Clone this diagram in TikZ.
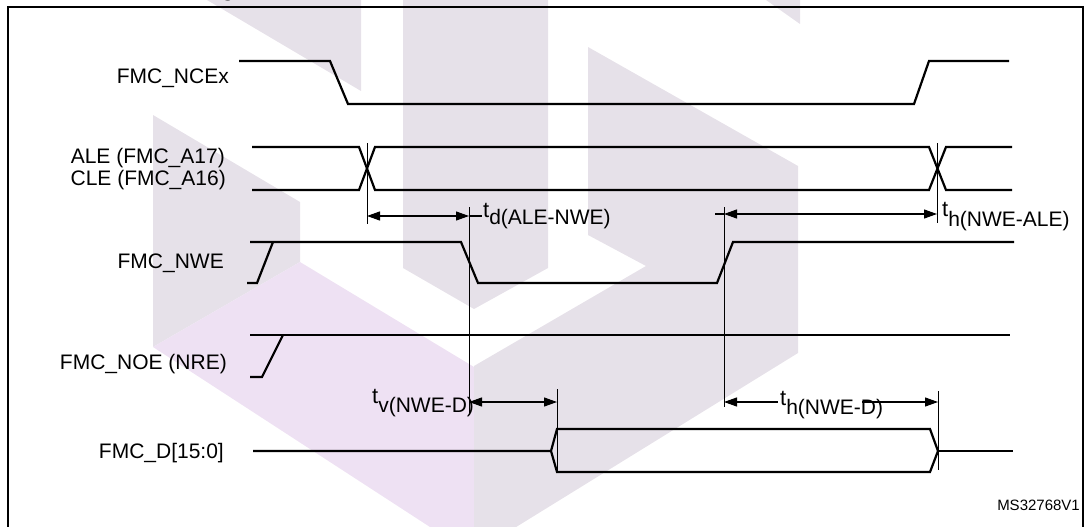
\documentclass[tikz,border=0pt]{standalone}
\usepackage{fontspec}
\setmainfont{Liberation Sans}
\usetikzlibrary{arrows.meta}
\definecolor{wmgrey}{HTML}{E6E1E9}
\definecolor{wmpink}{HTML}{EEE1F3}
\newcommand\tmlab[2]{{\fontsize{22}{22}\selectfont t}\raisebox{-#1pt}{#2}}
\begin{document}
\begin{tikzpicture}[x=1pt,y=-1pt,
  sig/.style={line width=2.2pt, line join=miter},
  tickline/.style={line width=1pt},
  dimline/.style={line width=1.1pt},
  dimboth/.style={line width=1.1pt, {Triangle[length=13pt,width=9pt]}-{Triangle[length=13pt,width=9pt]}},
  dimleft/.style={line width=1.1pt, {Triangle[length=13pt,width=9pt]}-},
  dimright/.style={line width=1.1pt, -{Triangle[length=13pt,width=9pt]}},
  lbl/.style={font=\fontsize{21}{24}\selectfont, inner sep=0pt, anchor=base east},
  tlbl/.style={font=\fontsize{21}{24}\selectfont, inner sep=0pt, anchor=base west}]
\useasboundingbox (0,0) rectangle (1088,527);
\begin{scope}
\clip (0,0) rectangle (1088,527);
% watermark
\fill[wmgrey] (207,0) -- (361,0) -- (361,91) -- cycle;
\fill[wmgrey] (403,-5) -- (548,-5) -- (548,268) -- (474,309) -- (403,268) -- cycle;
\fill[wmgrey] (153,115) -- (300,202) -- (300,262) -- (153,347) -- cycle;
\fill[wmpink] (153,347) -- (300,262) -- (474,367) -- (474,540) -- (450,540) -- cycle;
\fill[wmgrey] (588,47) -- (798,166) -- (798,353) -- (474,553) -- (474,366) -- (646,266) -- (588,235) -- cycle;
\fill[wmgrey] (759,-5) -- (800,-5) -- (800,24) -- cycle;
% cropped title and frame
\node[anchor=base, inner sep=0pt, font=\bfseries\fontsize{21}{24}\selectfont] (title) at (228,-3) {g};
\draw[line width=2.2pt] (8,545) -- (8,7) -- (1083,7) -- (1083,545);
\end{scope}

% signal labels
\node[lbl] (lnce) at (229,84) {FMC\_NCEx};
\node[lbl] (lale) at (225,163) {ALE (FMC\_A17)};
\node[lbl] (lcle) at (226,185) {CLE (FMC\_A16)};
\node[lbl] (lnwe) at (224,268) {FMC\_NWE};
\node[lbl] (lnoe) at (227,369) {FMC\_NOE (NRE)};
\node[lbl] (ld) at (224,458) {FMC\_D[15:0]};
\node[anchor=base east, inner sep=0pt, font=\fontsize{15}{18}\selectfont] (ref) at (1080,510) {MS32768V1};

% FMC_NCEx
\draw[sig] (239,61) -- (330,61) -- (348,104) -- (914,104) -- (929,61) -- (1009,61);
% ALE / CLE
\draw[sig] (252,147) -- (359,147) -- (375,190) -- (929,190) -- (946,147) -- (1012,147);
\draw[sig] (252,190) -- (359,190) -- (375,147) -- (929,147) -- (946,190) -- (1012,190);
% FMC_NWE
\draw[sig] (250,242) -- (461,242) -- (478,283) -- (717,283) -- (733,242) -- (1014,242);
\draw[sig] (247,283) -- (257,283) -- (273,242);
% FMC_NOE
\draw[sig] (250,335) -- (1010,335);
\draw[sig] (250,377) -- (262,377) -- (283,335);
% FMC_D
\draw[sig] (253,451) -- (551,451) -- (557,429) -- (930,429) -- (938,451) -- (930,472) -- (557,472) -- (551,451);
\draw[sig] (938,451) -- (1013,451);

% reference lines
\coordinate (v1t) at (367,143); \coordinate (v1b) at (367,224);
\coordinate (v2t) at (469,207); \coordinate (v2b) at (469,415);
\coordinate (v3t) at (724,207); \coordinate (v3b) at (724,407);
\coordinate (v4t) at (937,143); \coordinate (v4b) at (937,223);
\coordinate (v5t) at (557,389); \coordinate (v5b) at (557,472);
\coordinate (v6t) at (938,391); \coordinate (v6b) at (938,470);
\foreach \n in {1,...,6} { \draw[tickline] (v\n t) -- (v\n b); }

% timing labels
\node[tlbl] (td) at (483,217) {\tmlab{7}{d(ALE-NWE)}};
\node[tlbl] (thale) at (942,216) {\tmlab{10}{h(NWE-ALE)}};
\node[tlbl] (tv) at (372,403) {\tmlab{9}{v(NWE-D)}};
\node[tlbl] (thd) at (780,405) {\tmlab{9}{h(NWE-D)}};

% dimension arrows
\coordinate (d1a) at (367,216); \coordinate (d1b) at (469,216); \coordinate (d1c) at (482,216);
\draw[dimboth] (d1a) -- (d1b);
\draw[dimline] (d1b) -- (d1c);
\coordinate (d2a) at (724,214); \coordinate (d2b) at (937,214); \coordinate (d2c) at (715,214);
\draw[dimboth] (d2a) -- (d2b);
\draw[dimline] (d2c) -- (d2a);
\coordinate (d3a) at (469,402); \coordinate (d3b) at (557,402);
\draw[dimboth] (d3a) -- (d3b);
\coordinate (d4a) at (724,402); \coordinate (d4m) at (778,402);
\coordinate (d4n) at (862,402); \coordinate (d4b) at (938,402);
\draw[dimleft] (d4a) -- (d4m);
\draw[dimright] (d4n) -- (d4b);
\end{tikzpicture}
\end{document}
